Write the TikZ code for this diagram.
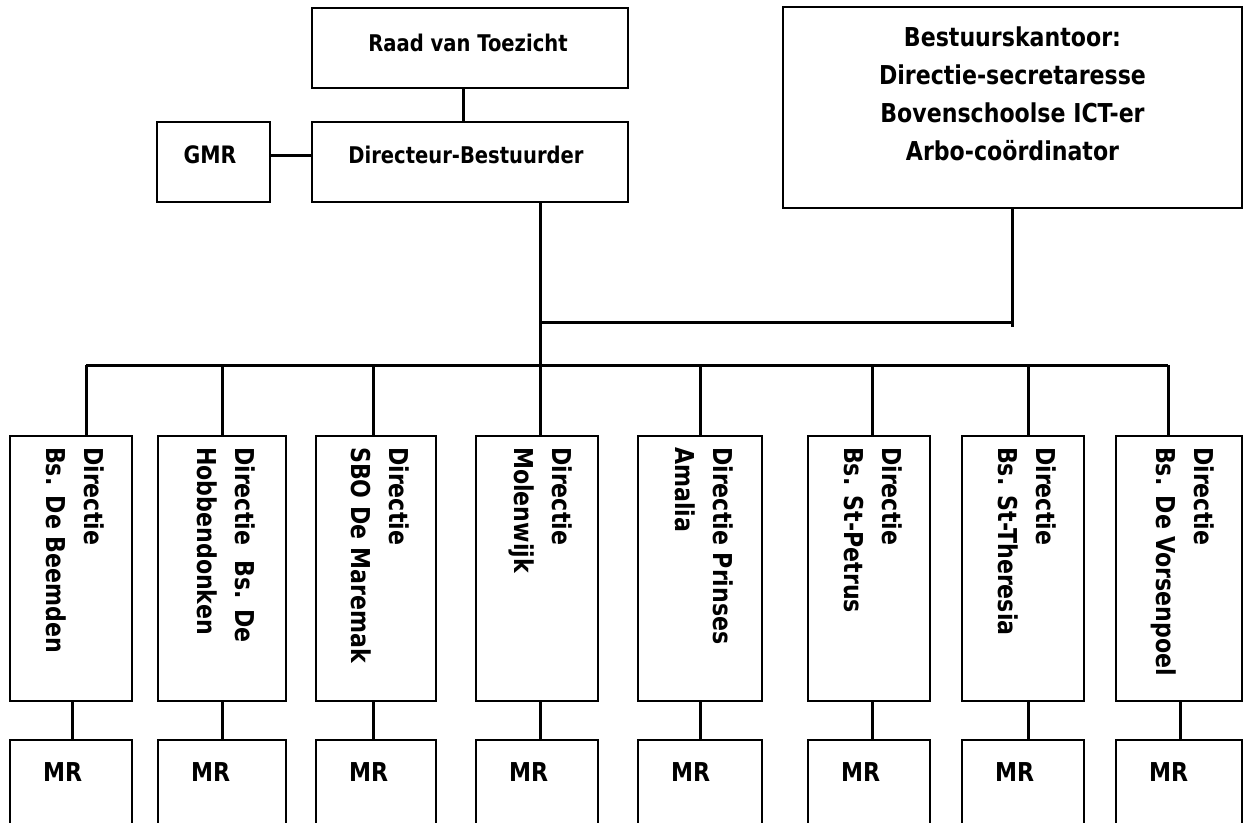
\documentclass[tikz,border=0pt]{standalone}
\usepackage{fontspec}
\setmainfont{DejaVu Sans}
\newfontfamily\orgfont[FakeStretch=0.85]{DejaVu Sans}
\usetikzlibrary{positioning}

\begin{document}
\begin{tikzpicture}[x=1pt, y=-1pt,
        box/.style={draw, line width=2.1pt, inner sep=0pt},
        conn/.style={line width=3pt},
        lbl/.style={inner sep=0pt, font=\orgfont\fontsize{26}{38}\selectfont\bfseries},
        toplbl/.style={inner sep=0pt, font=\orgfont\fontsize{23}{38}\selectfont\bfseries}]
        \clip (0,0) rectangle (1245,822);
        \fill[white] (0,0) rectangle (1245,822);
        % bestuur
        \node[box, minimum width=316, minimum height=80] (rvt) at (470,48) {};
        \node[toplbl] (rvt-t) at (468,43) {Raad van Toezicht};
        \node[box, minimum width=316, minimum height=80] (dir) at (470,162) {};
        \node[toplbl] (dir-t) at (466,155) {Directeur-Bestuurder};
        \node[box, minimum width=113, minimum height=80] (gmr) at (213.5,162) {};
        \node[toplbl, font=\orgfont\fontsize{24}{38}\selectfont\bfseries] (gmr-t) at (210,155) {GMR};
        \node[box, minimum width=459, minimum height=201] (bk) at (1012.5,107.5) {};
        \node[lbl, align=center] (bk-t) at (1012.5,94) {Bestuurskantoor:\\Directie-secretaresse\\Bovenschoolse ICT-er\\Arbo-coördinator};
        \draw[conn] ([xshift=-7pt]rvt.south) -- ([xshift=-7pt]dir.north);
        \draw[conn] ([yshift=7pt]gmr.east) -- ([yshift=7pt]dir.west);
        % verbindingen naar de scholen
        \coordinate (busL) at (86,365);
        \coordinate (busR) at (1168,365);
        \coordinate (join) at (540,322);
        \draw[conn] (busL) -- (busR);
        \draw[conn] (bk.south) -- ++(0,118);
        \draw[conn] (bk.south |- join) -- (join);
        % scholen
        \foreach \i/\xl/\xr/\xt/\xb/\txt in {
            1/10/132/86/72/{Directie\\Bs. De Beemden},
            2/158/286/222/222/{Directie\ \ Bs. De\\Hobbendonken},
            3/316/436/373/373/{Directie\\SBO De Maremak},
            4/476/598/540/540/{Directie\\Molenwijk},
            5/638/762/700/700/{Directie Prinses\\Amalia},
            6/808/930/872/872/{Directie\\Bs. St-Petrus},
            7/962/1084/1028/1028/{Directie\\Bs. St-Theresia},
            8/1116/1242/1168/1180/{Directie\\Bs. De Vorsenpoel}}{
            \node[box, minimum width={\xr-\xl}, minimum height=265] (d\i) at ({(\xl+\xr)/2},568.5) {};
            \node[lbl, rotate=-90, anchor=west, align=left] (d\i-t) at ([xshift=4pt, yshift=-12pt]d\i.north) {\txt};
            \node[box, minimum width={\xr-\xl}, minimum height=92] (m\i) at ({(\xl+\xr)/2},786) {};
            \node[lbl, anchor=west] (m\i-t) at (\xl+33,772) {MR};
            \coordinate (top\i) at (\xt,365);
            \coordinate (bot\i) at (\xb,0);
            \draw[conn] (top\i) -- (top\i |- d\i.north);
            \draw[conn] (d\i.south -| bot\i) -- (m\i.north -| bot\i);
        }
        \draw[conn] ([xshift=70pt]dir.south) -- (top4);
\end{tikzpicture}
\end{document}
